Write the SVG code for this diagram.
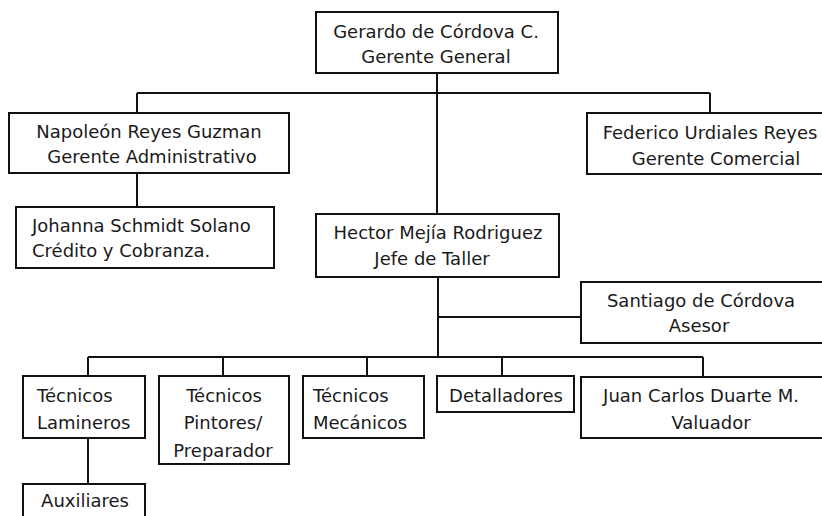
<svg xmlns="http://www.w3.org/2000/svg" width="822" height="516" viewBox="0 0 822 516">
<style>
.box{fill:#fff;stroke:#111;stroke-width:2}
.t{font-family:"DejaVu Sans","Liberation Sans",sans-serif;font-size:18px;fill:#1a1a1a}
.c{text-anchor:middle}
.ln{stroke:#111;stroke-width:2;fill:none}
</style>
<rect width="822" height="516" fill="#fff"/>
<g id="connectors">
<path class="ln" d="M437,73V214M137,93H710M137,93V113M710,93V113M137,173V207M438,277V357M438,317H581M88,357H703M88,357V376M223,357V376M367,357V376M502,357V376M703,357V377M88,438V484"/>
</g>
<g id="n-gerardo"><rect class="box" x="316" y="12" width="242" height="61"/>
<text class="t c" x="436" y="38">Gerardo de Córdova C.</text><text class="t c" x="436" y="63">Gerente General</text></g>
<g id="n-napoleon"><rect class="box" x="9" y="113" width="280" height="60"/>
<text class="t c" x="149" y="138">Napoleón Reyes Guzman</text><text class="t c" x="152" y="163">Gerente Administrativo</text></g>
<g id="n-johanna"><rect class="box" x="16" y="207" width="258" height="61"/>
<text class="t" x="32" y="232">Johanna Schmidt Solano</text><text class="t" x="32" y="257">Crédito y Cobranza.</text></g>
<g id="n-federico"><rect class="box" x="587" y="113" width="245" height="61"/>
<text class="t c" x="710" y="139">Federico Urdiales Reyes</text><text class="t c" x="716" y="165">Gerente Comercial</text></g>
<g id="n-hector"><rect class="box" x="316" y="214" width="243" height="63"/>
<text class="t c" x="438" y="239">Hector Mejía Rodriguez</text><text class="t c" x="432" y="265">Jefe de Taller</text></g>
<g id="n-santiago"><rect class="box" x="581" y="282" width="251" height="61"/>
<text class="t c" x="701" y="307">Santiago de Córdova</text><text class="t c" x="699" y="332">Asesor</text></g>
<g id="n-laminero"><rect class="box" x="23" y="376" width="122" height="62"/>
<text class="t" x="37" y="402">Técnicos</text><text class="t" x="37" y="429">Lamineros</text></g>
<g id="n-pintores"><rect class="box" x="159" y="376" width="130" height="88"/>
<text class="t c" x="224" y="402">Técnicos</text><text class="t c" x="223" y="429">Pintores/</text><text class="t c" x="223" y="457">Preparador</text></g>
<g id="n-mecanicos"><rect class="box" x="303" y="376" width="121" height="62"/>
<text class="t" x="313" y="402">Técnicos</text><text class="t" x="313" y="429">Mecánicos</text></g>
<g id="n-detalladores"><rect class="box" x="437" y="376" width="137" height="36"/>
<text class="t c" x="506" y="402">Detalladores</text></g>
<g id="n-juan"><rect class="box" x="581" y="377" width="251" height="61"/>
<text class="t c" x="701" y="402">Juan Carlos Duarte M.</text><text class="t c" x="711" y="429">Valuador</text></g>
<g id="n-auxiliares"><rect class="box" x="23" y="484" width="122" height="46"/>
<text class="t c" x="85" y="507">Auxiliares</text></g>
</svg>
